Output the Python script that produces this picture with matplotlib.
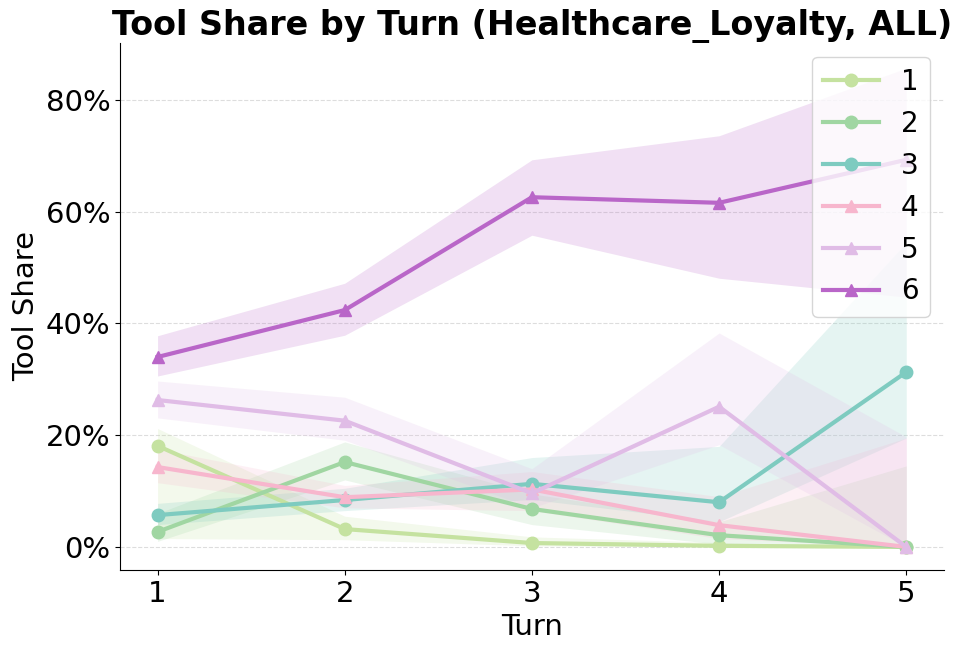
import matplotlib
matplotlib.use("Agg")
import matplotlib.pyplot as plt
from matplotlib.ticker import FuncFormatter

turns = [1, 2, 3, 4, 5]
labels = ["1", "2", "3", "4", "5", "6"]
colors = ["#c5e2a0", "#a0d6a2", "#7ecbc0", "#f7b6cd", "#e0bce6", "#b966c8"]
markers = ["o", "o", "o", "^", "^", "^"]

s1 = [0.181, 0.032, 0.007, 0.002, 0.0]
s2 = [0.027, 0.152, 0.068, 0.021, 0.0]
s3 = [0.057, 0.084, 0.113, 0.080, 0.313]
s4 = [0.143, 0.089, 0.103, 0.039, 0.0]
s5 = [0.263, 0.226, 0.096, 0.251, 0.0]
s6 = [0.340, 0.424, 0.626, 0.616, 0.693]

lo1 = [0.015, 0.013, 0.002, 0.0, 0.0]
hi1 = [0.212, 0.055, 0.018, 0.008, 0.0]
lo2 = [0.010, 0.120, 0.040, 0.005, 0.0]
hi2 = [0.060, 0.188, 0.095, 0.045, 0.145]
lo3 = [0.040, 0.065, 0.085, 0.045, 0.195]
hi3 = [0.078, 0.105, 0.160, 0.180, 0.545]
lo4 = [0.115, 0.070, 0.065, 0.015, 0.0]
hi4 = [0.175, 0.110, 0.135, 0.090, 0.195]
lo5 = [0.231, 0.191, 0.070, 0.183, 0.0]
hi5 = [0.297, 0.268, 0.140, 0.383, 0.197]
lo6 = [0.306, 0.379, 0.558, 0.481, 0.447]
hi6 = [0.378, 0.472, 0.693, 0.736, 0.857]

series = [s1, s2, s3, s4, s5, s6]
lows = [lo1, lo2, lo3, lo4, lo5, lo6]
highs = [hi1, hi2, hi3, hi4, hi5, hi6]

fig, ax = plt.subplots(figsize=(9.61, 6.52), dpi=100)
fig.subplots_adjust(left=0.125, right=0.982, top=0.934, bottom=0.126)

for s, lo, hi, c, m, lab in zip(series, lows, highs, colors, markers, labels):
    ax.fill_between(turns, lo, hi, color=c, alpha=0.2, linewidth=0)
    ax.plot(turns, s, color=c, marker=m, markersize=9, linewidth=3, label=lab)

ax.set_xlim(0.8, 5.2)
ax.set_ylim(-0.041, 0.902)
ax.set_xticks(turns)
ax.set_yticks([0, 0.2, 0.4, 0.6, 0.8])
ax.yaxis.set_major_formatter(FuncFormatter(lambda v, p: f"{v*100:.0f}%"))
ax.tick_params(labelsize=21)
ax.set_xlabel("Turn", fontsize=21)
ax.set_ylabel("Tool Share", fontsize=21)
ax.set_title("Tool Share by Turn (Healthcare_Loyalty, ALL)", fontsize=24, fontweight="bold")
ax.grid(axis="y", linestyle="--", color="#dddddd", linewidth=0.8)
ax.set_axisbelow(True)
ax.spines["top"].set_visible(False)
ax.spines["right"].set_visible(False)
ax.legend(loc="upper right", fontsize=20)

fig.savefig("out.png", dpi=100)
